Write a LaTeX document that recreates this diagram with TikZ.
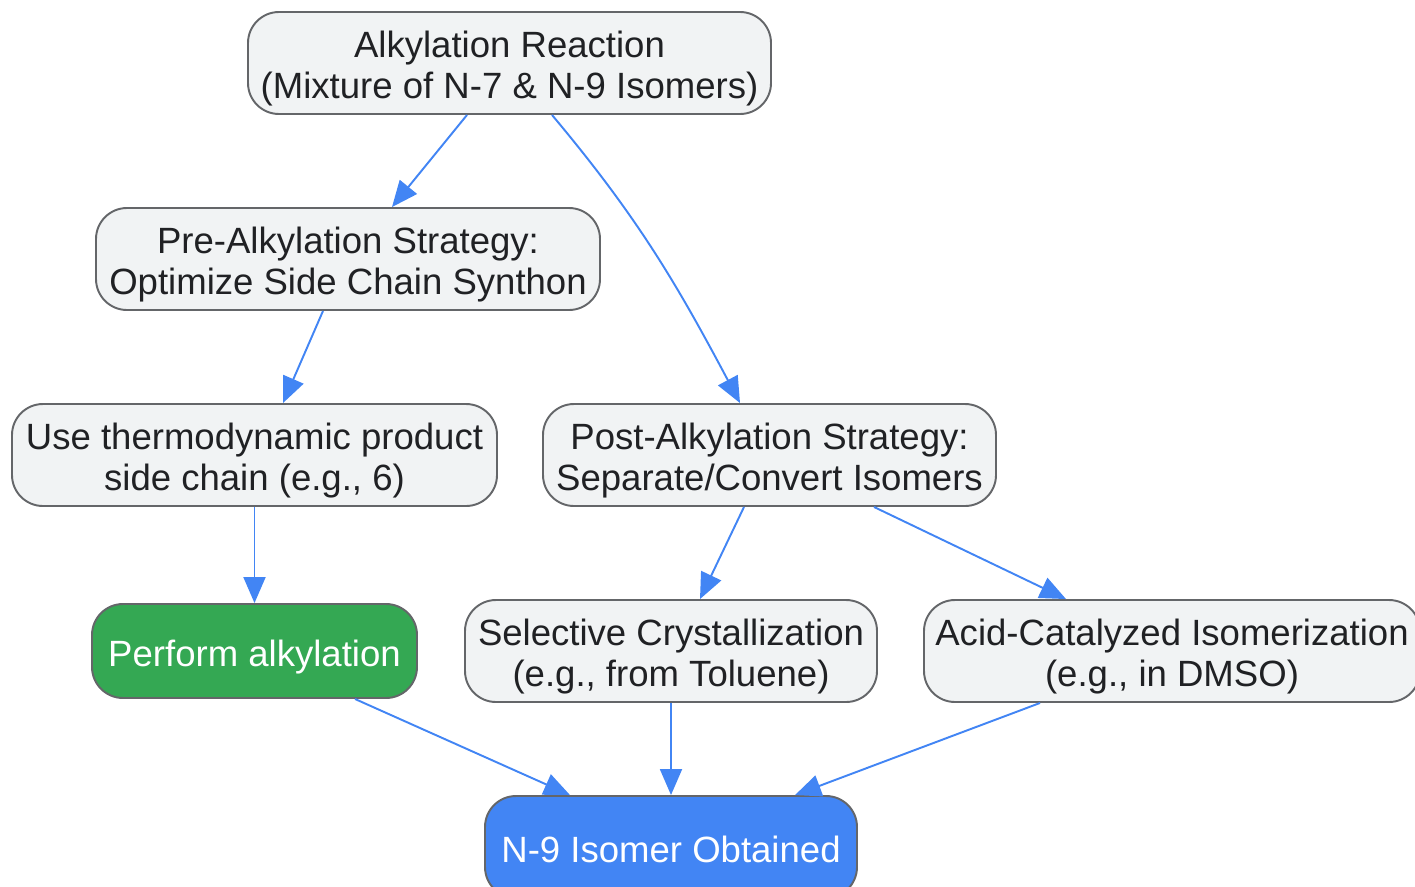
\documentclass[tikz,border=0pt]{standalone}
\usepackage{fontspec}
\setmainfont{Liberation Sans}
\usetikzlibrary{arrows.meta}
\definecolor{boxgray}{HTML}{F1F3F4}
\definecolor{boxline}{HTML}{646669}
\definecolor{txtdark}{HTML}{202124}
\definecolor{arrblue}{HTML}{4285F4}
\definecolor{okgreen}{HTML}{34A853}
\newcommand{\tstrut}{\rule{0pt}{0.78cm}}
\newcommand{\bstrut}{\rule[-0.18cm]{0pt}{0pt}}
\begin{document}
\begin{tikzpicture}
\tikzstyle{stage}=[rectangle, rounded corners=0.62cm, draw=boxline, line width=1.1pt, fill=boxgray, text=txtdark, align=center, minimum height=2.04cm, inner sep=0pt, font=\fontsize{20.8}{23}\selectfont]
\tikzstyle{flow}=[draw=arrblue, line width=1.1pt, -{Triangle[length=0.52cm, width=0.44cm]}]
\clip (0,0) rectangle (28.3,-17.72);
\node [stage, minimum width=10.46cm] (alk) at (10.19,-1.26) {\tstrut Alkylation Reaction\\(Mixture of N-7 \& N-9 Isomers)\bstrut};
\node [stage, minimum width=10.08cm] (pre) at (6.96,-5.18) {\tstrut Pre-Alkylation Strategy:\\Optimize Side Chain Synthon\bstrut};
\node [stage, minimum width=9.70cm] (use) at (5.09,-9.10) {\tstrut Use thermodynamic product\\side chain (e.g., 6)\bstrut};
\node [stage, minimum width=9.06cm] (post) at (15.39,-9.10) {\tstrut Post-Alkylation Strategy:\\Separate/Convert Isomers\bstrut};
\node [stage, minimum width=6.50cm, minimum height=1.88cm, fill=okgreen, text=white] (perform) at (5.09,-13.02) {\tstrut Perform alkylation\bstrut};
\node [stage, minimum width=8.24cm] (select) at (13.42,-13.02) {\tstrut Selective Crystallization\\(e.g., from Toluene)\bstrut};
\node [stage, minimum width=9.92cm] (acid) at (23.44,-13.02) {\tstrut Acid-Catalyzed Isomerization\\(e.g., in DMSO)\bstrut};
\node [stage, minimum width=7.44cm, fill=arrblue, text=white] (n9) at (13.42,-16.94) {\tstrut N-9 Isomer Obtained\bstrut};
\draw [flow] ([xshift=-0.85cm]alk.south) -- ([xshift=0.88cm]pre.north);
\draw [flow] ([xshift=0.85cm]alk.south) to[out=-50, in=118] ([xshift=-0.59cm]post.north);
\draw [flow] ([xshift=-0.50cm]pre.south) -- ([xshift=0.57cm]use.north);
\draw [flow] (use.south) -- (perform.north);
\draw [flow] ([xshift=-0.51cm]post.south) -- ([xshift=0.58cm]select.north);
\draw [flow] ([xshift=2.09cm]post.south) -- ([xshift=-2.12cm]acid.north);
\draw [flow] ([xshift=2.01cm]perform.south) -- ([xshift=-2.02cm]n9.north);
\draw [flow] (select.south) -- (n9.north);
\draw [flow] ([xshift=-2.64cm]acid.south) -- ([xshift=2.48cm]n9.north);
\end{tikzpicture}
\end{document}
